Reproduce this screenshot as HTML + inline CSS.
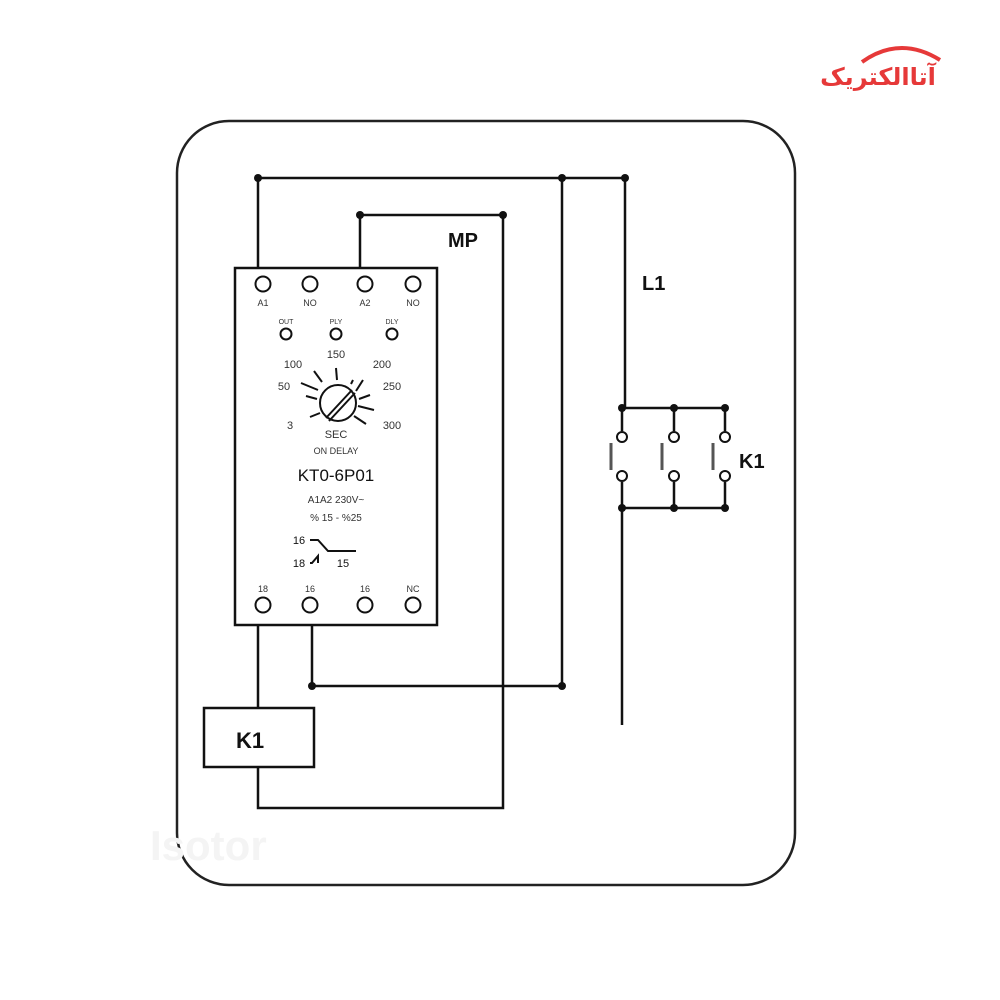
<!DOCTYPE html>
<html><head><meta charset="utf-8"><style>body{margin:0;background:#fff}svg{display:block}</style></head><body>
<svg width="1000" height="1000" viewBox="0 0 1000 1000" xmlns="http://www.w3.org/2000/svg" font-family="Liberation Sans, sans-serif">
<rect x="177" y="121" width="618" height="764" rx="52" fill="none" stroke="#222" stroke-width="2.5"/>
<g stroke="#111" stroke-width="2.5" fill="none">
<path d="M258 268V178H625V408M622 508V725M562 178V686H312V625M360 268V215H503V808H258V767M258 625V708"/>
<path d="M622 408H725M622 508H725M674 408V431M725 408V431M622 408V431M674 482V508M725 482V508M622 482V508"/>
<path d="M611 443V470M662 443V470M713 443V470" stroke="#555" stroke-width="3"/>
</g>
<g fill="#111">
<circle cx="258" cy="178" r="4"/><circle cx="562" cy="178" r="4"/><circle cx="625" cy="178" r="4"/>
<circle cx="360" cy="215" r="4"/><circle cx="503" cy="215" r="4"/>
<circle cx="312" cy="686" r="4"/><circle cx="562" cy="686" r="4"/>
<circle cx="622" cy="408" r="4"/><circle cx="674" cy="408" r="4"/><circle cx="725" cy="408" r="4"/>
<circle cx="622" cy="508" r="4"/><circle cx="674" cy="508" r="4"/><circle cx="725" cy="508" r="4"/>
</g>
<g fill="#fff" stroke="#111" stroke-width="2">
<circle cx="622" cy="437" r="5"/><circle cx="674" cy="437" r="5"/><circle cx="725" cy="437" r="5"/>
<circle cx="622" cy="476" r="5"/><circle cx="674" cy="476" r="5"/><circle cx="725" cy="476" r="5"/>
</g>
<rect x="235" y="268" width="202" height="357" fill="#fff" stroke="#111" stroke-width="2.5"/>
<g fill="none" stroke="#111" stroke-width="2">
<circle cx="263" cy="284" r="7.5"/><circle cx="310" cy="284" r="7.5"/><circle cx="365" cy="284" r="7.5"/><circle cx="413" cy="284" r="7.5"/>
<circle cx="286" cy="334" r="5.5"/><circle cx="336" cy="334" r="5.5"/><circle cx="392" cy="334" r="5.5"/>
<circle cx="263" cy="605" r="7.5"/><circle cx="310" cy="605" r="7.5"/><circle cx="365" cy="605" r="7.5"/><circle cx="413" cy="605" r="7.5"/>
<circle cx="338" cy="403" r="18"/>
<path d="M326 418L352 390M329 421L355 393"/>
<path d="M306 396L317 399M301 383L318 390M314 371L322 382M336 368L337 380M353 380L351 384M363 380L356 391M370 395L359 399M374 410L358 406M366 424L354 416M310 417L320 413"/>
<path d="M310 540H318L328 551H356M310 563H312L318 556V563"/>
</g>
<g fill="#333" font-size="9" text-anchor="middle">
<text x="263" y="306">A1</text><text x="310" y="306">NO</text><text x="365" y="306">A2</text><text x="413" y="306">NO</text>
<text x="286" y="324" font-size="7">OUT</text><text x="336" y="324" font-size="7">PLY</text><text x="392" y="324" font-size="7">DLY</text>
<text x="336" y="358" font-size="11">150</text><text x="293" y="368" font-size="11">100</text><text x="382" y="368" font-size="11">200</text>
<text x="284" y="390" font-size="11">50</text><text x="392" y="390" font-size="11">250</text>
<text x="290" y="429" font-size="11">3</text><text x="392" y="429" font-size="11">300</text>
<text x="336" y="438" font-size="11">SEC</text><text x="336" y="454" font-size="9">ON DELAY</text>
<text x="336" y="481" font-size="17" fill="#111">KT0-6P01</text>
<text x="336" y="503" font-size="10">A1A2 230V~</text><text x="336" y="521" font-size="10">% 15 - %25</text>
<text x="299" y="544" font-size="11" fill="#111">16</text><text x="299" y="567" font-size="11" fill="#111">18</text><text x="343" y="567" font-size="11" fill="#111">15</text>
<text x="263" y="592">18</text><text x="310" y="592">16</text><text x="365" y="592">16</text><text x="413" y="592">NC</text>
</g>
<rect x="204" y="708" width="110" height="59" fill="#fff" stroke="#111" stroke-width="2.5"/>
<g fill="#111" font-weight="bold" font-size="20">
<text x="236" y="748" font-size="22">K1</text>
<text x="448" y="247">MP</text><text x="642" y="290">L1</text><text x="739" y="468">K1</text>
</g>
<text x="150" y="860" font-size="42" font-weight="bold" fill="#f4f4f4">Isotor</text>
<path d="M862 62Q900 35 940 60" fill="none" stroke="#e63939" stroke-width="4"/>
<text x="878" y="85" font-size="24" font-weight="bold" fill="#e63939" text-anchor="middle" font-family="Liberation Sans, DejaVu Sans, sans-serif">آتاالکتریک</text>
</svg>
</body></html>
